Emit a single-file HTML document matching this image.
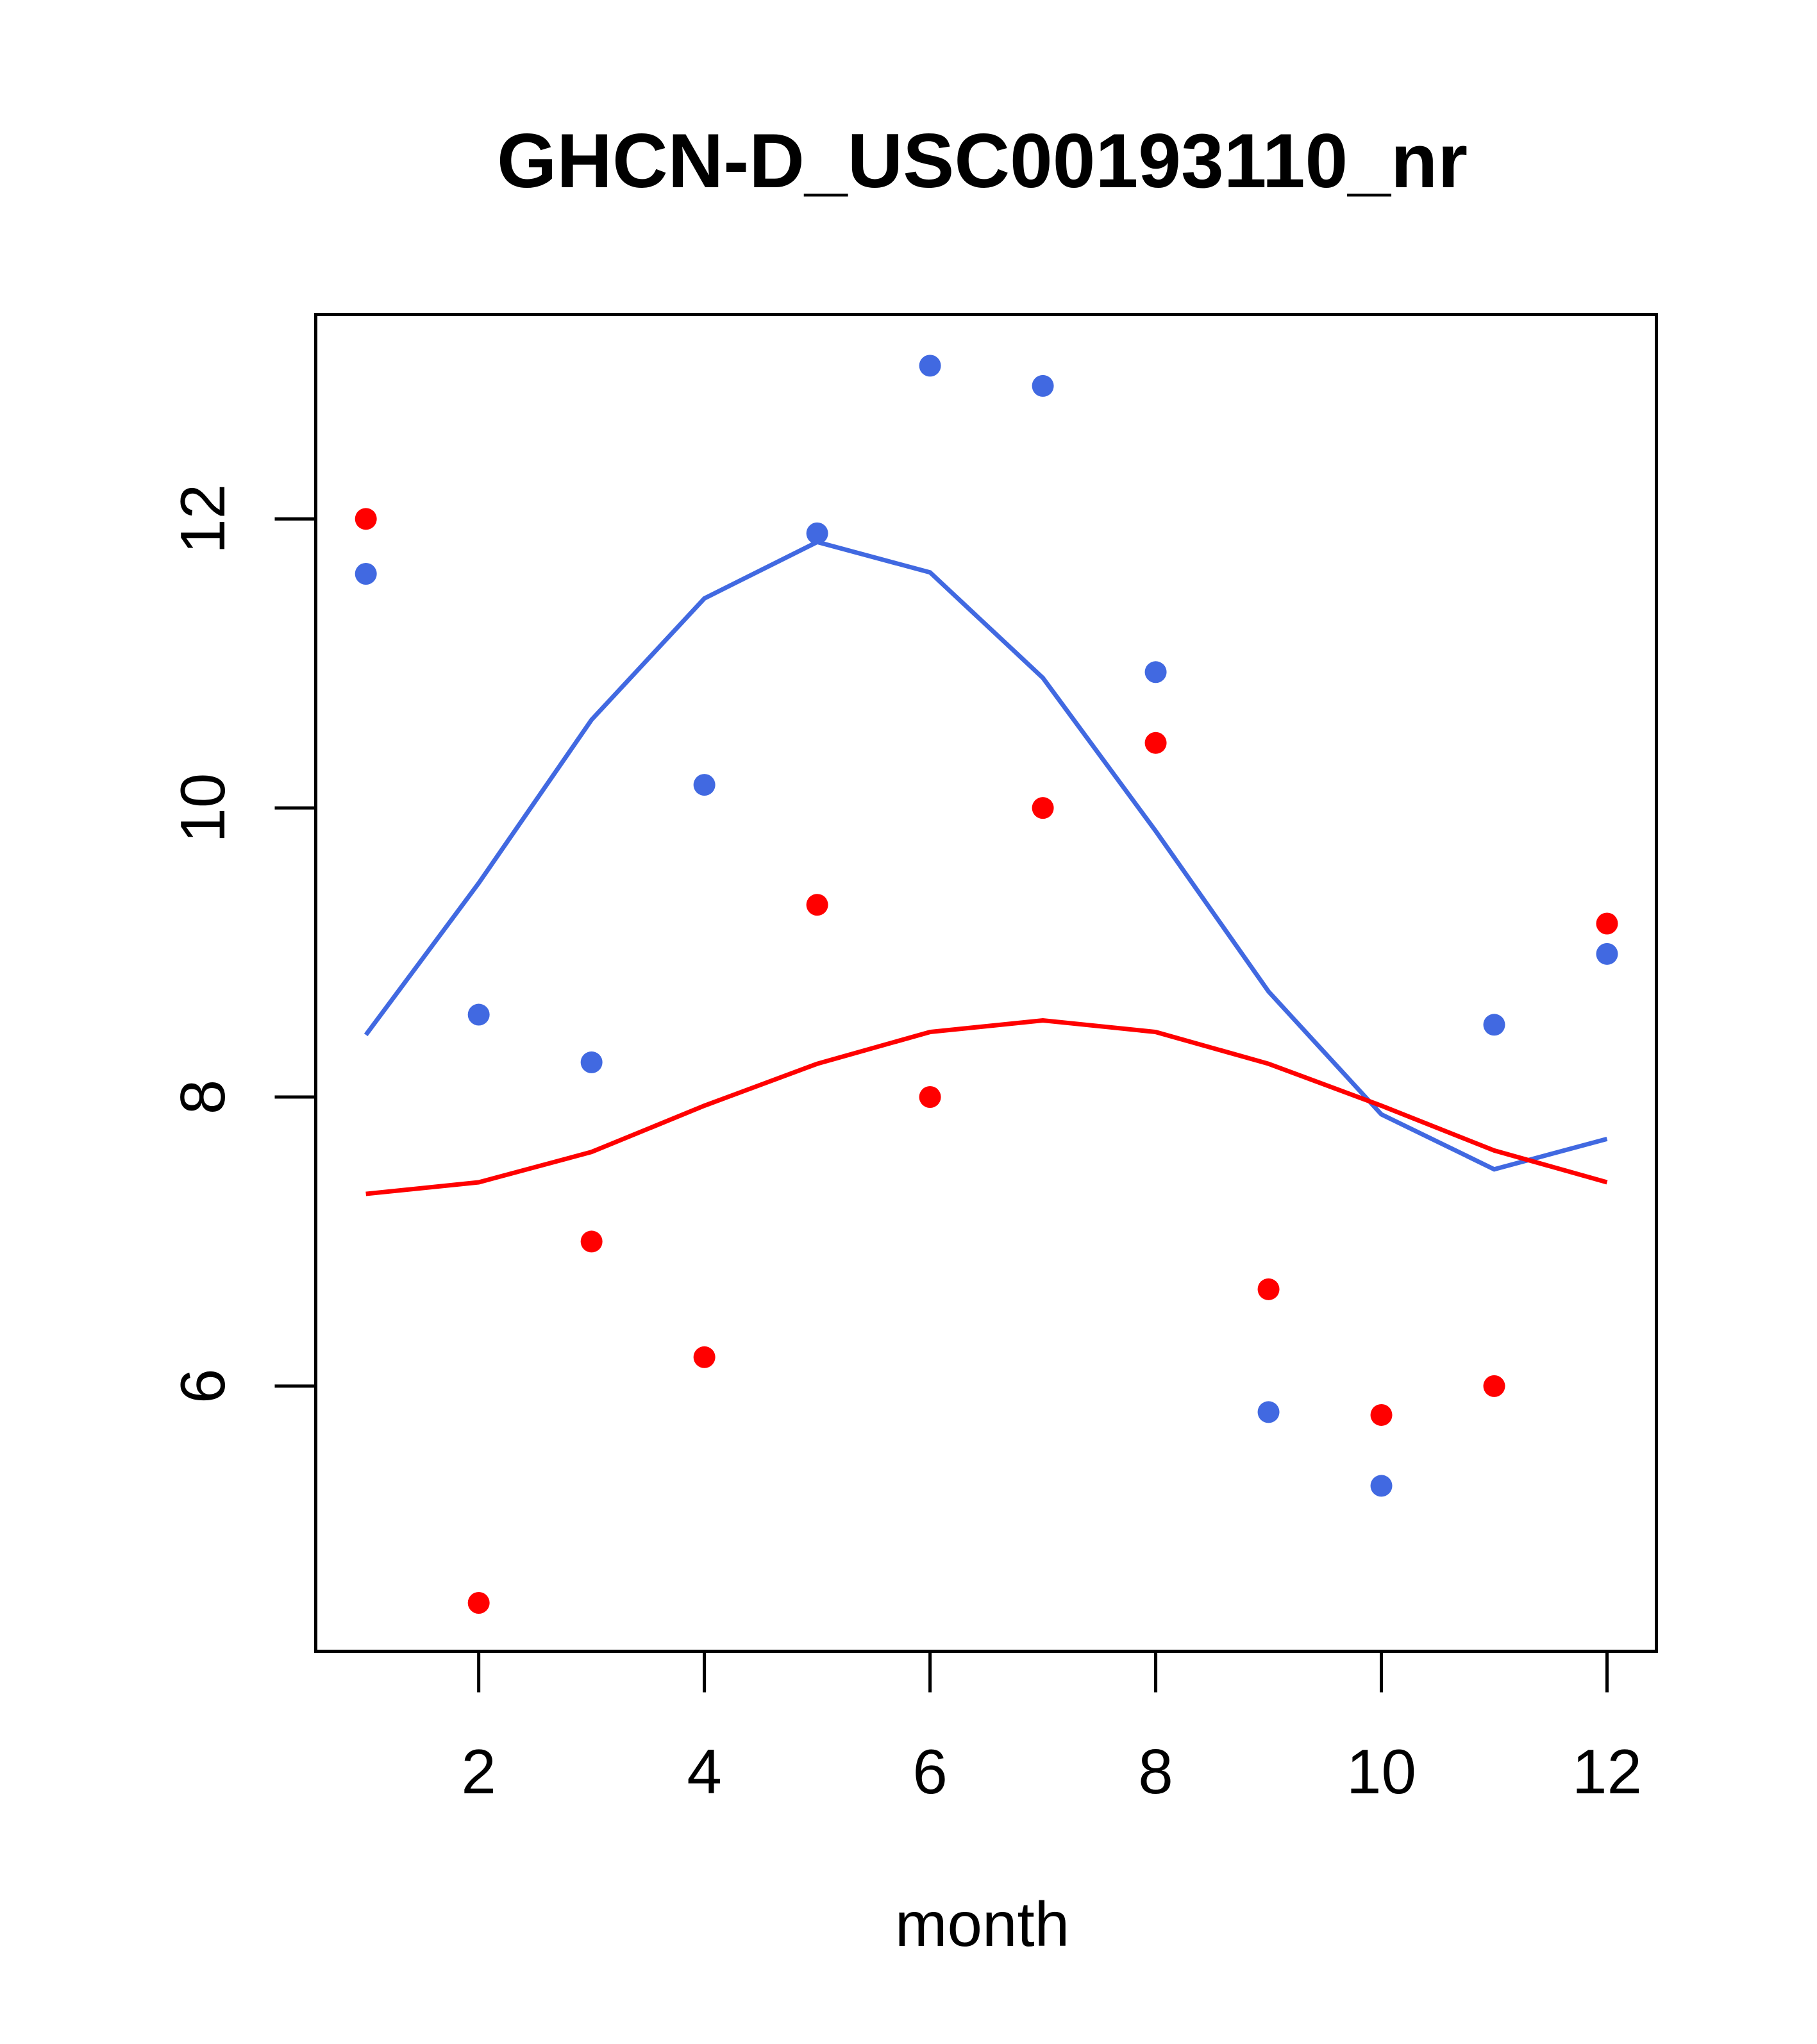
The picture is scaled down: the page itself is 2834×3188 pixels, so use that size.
<!DOCTYPE html>
<html><head><meta charset="utf-8"><style>
html,body{margin:0;padding:0;background:#fff;}
svg{display:block;font-family:"Liberation Sans",Arial,sans-serif;}
</style></head><body>
<svg id="chart" width="2834" height="3188" viewBox="0 0 2834 3188" xmlns="http://www.w3.org/2000/svg">
<rect x="0" y="0" width="2834" height="3188" fill="#fff"/>
<text x="1532" y="292" text-anchor="middle" font-weight="bold" font-size="120">GHCN-D_USC00193110_nr</text>
<rect x="492.5" y="490.5" width="2091" height="2085" fill="none" stroke="#000" stroke-width="5"/>
<text x="1532" y="3035" text-anchor="middle" font-size="98">month</text>
<g id="axes"></g>
<g id="marks"></g>
</svg>
<script>
const months = [1,2,3,4,5,6,7,8,9,10,11,12];
const redPoints = [12.0,4.5,7.0,6.2,9.33,8.0,10.0,10.45,6.67,5.8,6.0,9.2];
const bluePoints = [11.62,8.57,8.24,10.16,11.9,13.06,12.92,10.94,5.82,5.31,8.5,8.99];
const redLine = [7.33,7.41,7.62,7.94,8.23,8.45,8.53,8.45,8.23,7.94,7.63,7.41];
const blueLine = [8.43,9.48,10.61,11.45,11.84,11.63,10.9,9.84,8.73,7.88,7.5,7.71];
const xTicks = [2,4,6,8,10,12];
const yTicks = [6,8,10,12];

const S = 2.0345;
function xs(m){ return S*(367 + (m-2)*86.5); }
function ys(v){ return S*(841 - (v-8)*110.8); }
const NS = "http://www.w3.org/2000/svg";
const axes = document.getElementById('axes');
const marks = document.getElementById('marks');
function mk(tag, attrs, parent){
  const e = document.createElementNS(NS, tag);
  for (const k in attrs) e.setAttribute(k, attrs[k]);
  parent.appendChild(e); return e;
}
const yBottom = 2575.5, xLeft = 492.5;
xTicks.forEach(t => {
  const l = mk('line', {x1: xs(t), x2: xs(t), y1: yBottom, y2: yBottom + 64, stroke: '#000', 'stroke-width': 5}, axes);
  
  
  const tx = mk('text', {x: xs(t), y: 2797, 'text-anchor': 'middle', 'font-size': 98}, axes);
  tx.textContent = t;
  
  
});
yTicks.forEach(t => {
  const l = mk('line', {x1: xLeft - 64, x2: xLeft, y1: ys(t), y2: ys(t), stroke: '#000', 'stroke-width': 5}, axes);
  
  
  const tx = mk('text', {x: 0, y: 0, 'text-anchor': 'middle', 'font-size': 98, transform: 'translate(350,' + ys(t) + ') rotate(-90)'}, axes);
  tx.textContent = t;
  
  
});
function line(vals, color, name){
  const p = mk('polyline', {points: vals.map((v,i) => xs(months[i]) + ',' + ys(v)).join(' '), fill: 'none', stroke: color, 'stroke-width': 7}, marks);
  
  
}
function pts(vals, color, name){
  vals.forEach((v,i) => {
    const c = mk('circle', {cx: xs(months[i]), cy: ys(v), r: 17, fill: color}, marks);
    
    
  });
}
line(blueLine, '#4169e1', 'blue-smooth-line');
line(redLine, '#ff0000', 'red-smooth-line');
pts(redPoints, '#ff0000', 'red-point');
pts(bluePoints, '#4169e1', 'blue-point');
</script>
</body></html>
